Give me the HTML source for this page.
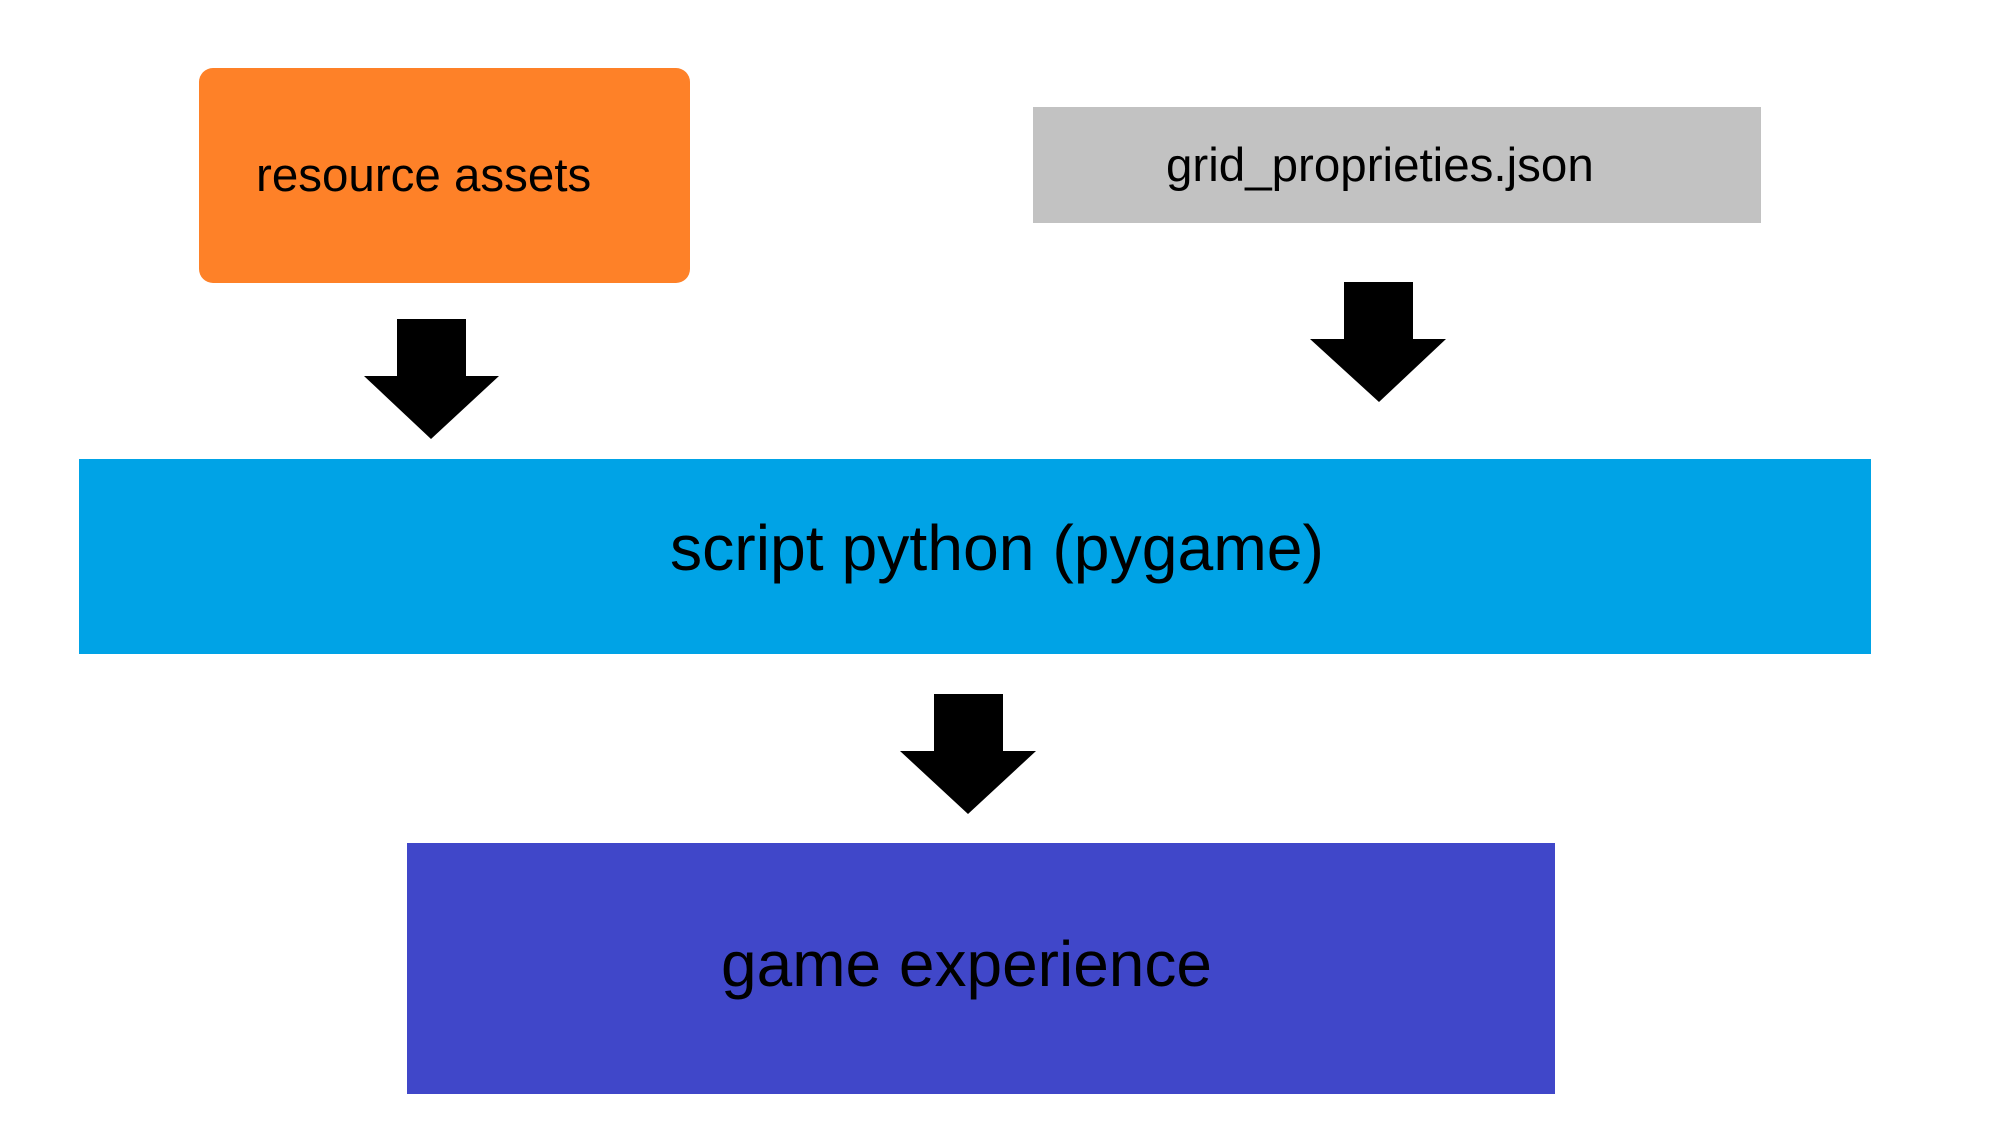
<!DOCTYPE html>
<html><head><style>html,body{margin:0;padding:0;background:#fff;}svg{display:block}</style></head>
<body>
<svg width="2000" height="1128" viewBox="0 0 2000 1128" xmlns="http://www.w3.org/2000/svg" font-family="Liberation Sans, Arial, sans-serif">
<rect width="2000" height="1128" fill="#fff"/>
<rect x="199" y="68" width="491" height="215" rx="14" fill="#fe8128"/>
<rect x="1033" y="107" width="728" height="116" fill="#c2c2c2"/>
<rect x="79" y="459" width="1792" height="195" fill="#00a3e6"/>
<rect x="407" y="843" width="1148" height="251" fill="#4047c9"/>
<text x="256" y="191" font-size="47.5" fill="#000">resource assets</text>
<text x="1166" y="181" font-size="47.5" fill="#000">grid_proprieties.json</text>
<text x="670" y="570" font-size="64.3" fill="#000">script python (pygame)</text>
<text x="721" y="986" font-size="64" fill="#000">game experience</text>
<polygon points="397,319 466,319 466,376 499,376 431,439 364,376 397,376" fill="#000"/>
<polygon points="1344,282 1413,282 1413,339 1446,339 1379,402 1310,339 1344,339" fill="#000"/>
<polygon points="934,694 1003,694 1003,751 1036,751 968,814 900,751 934,751" fill="#000"/>
</svg>
</body></html>
